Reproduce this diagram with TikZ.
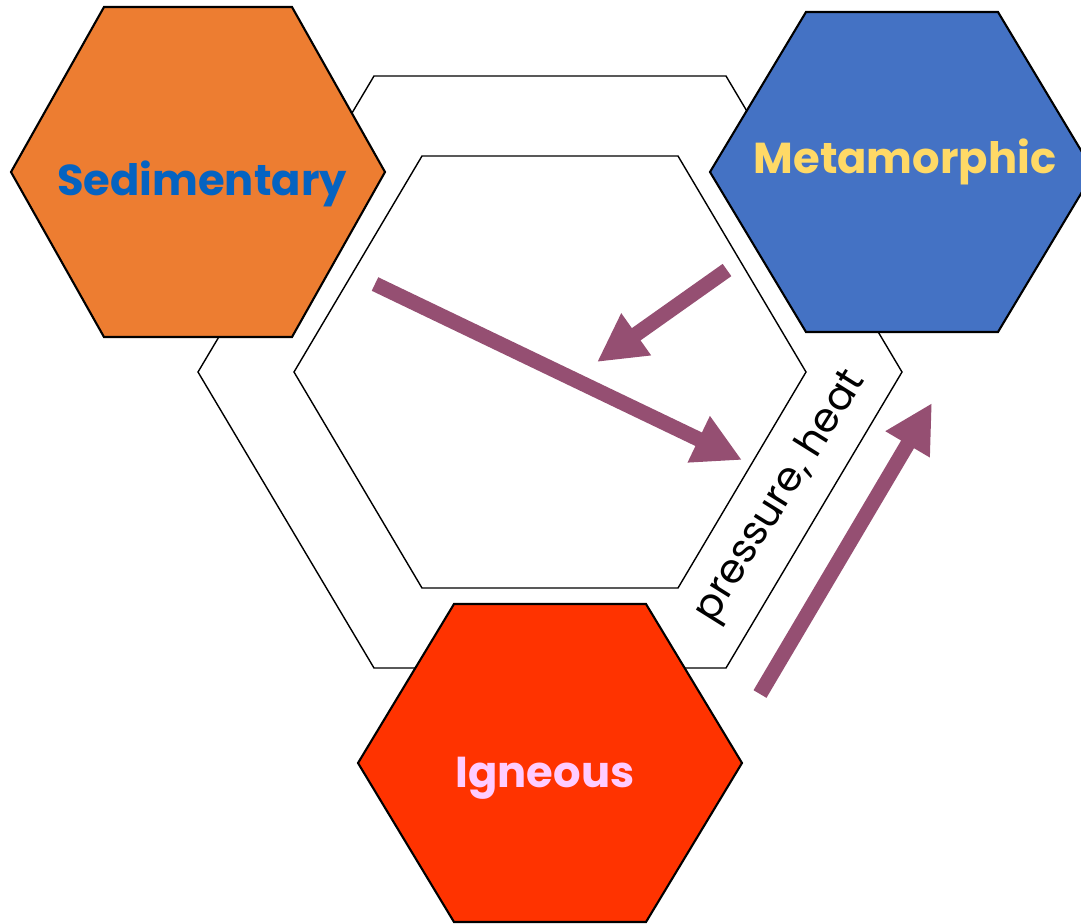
\documentclass[tikz,border=0pt]{standalone}
\usepackage{fontspec}
\setmainfont{Poppins}
\usepackage{tikz}
\usetikzlibrary{arrows.meta}

\definecolor{sedorange}{HTML}{ED7D31}
\definecolor{metablue}{HTML}{4472C4}
\definecolor{ignred}{HTML}{FF3300}
\definecolor{arrowpurple}{HTML}{954F72}
\definecolor{sedtext}{HTML}{0563C1}
\definecolor{metatext}{HTML}{FFD966}
\definecolor{igntext}{HTML}{FFCCFF}

% hexagon: style, centre x, centre y, half width, half top edge, half height
\newcommand{\hexagon}[6]{%
  \draw[#1] ({#2-#4},#3) -- ({#2-#5},{#3-#6}) -- ({#2+#5},{#3-#6})
    -- ({#2+#4},#3) -- ({#2+#5},{#3+#6}) -- ({#2-#5},{#3+#6}) -- cycle;}

\begin{document}
\begin{tikzpicture}[x=0.01cm, y=-0.01cm,
    frame/.style={draw=black, line width=0.4pt, fill=white},
    rock/.style={draw=black, line width=0.6pt},
    rocklabel/.style={font=\fontsize{12.3}{14}\selectfont\bfseries, anchor=base},
    fatarrow/.style={draw=arrowpurple, line width=0.15cm,
      -{Triangle[length=0.48cm, width=0.48cm]}}]
    \clip (0,0) rectangle (1081,923);
    % cycle frame
    \hexagon{frame}{550}{372}{352}{176}{296}
    \hexagon{frame}{550}{372}{256}{128}{216}
    % rock types
    \hexagon{rock, fill=sedorange}{198}{172}{187}{94}{165}
    \hexagon{rock, fill=metablue}{902}{172}{192}{96}{160}
    \hexagon{rock, fill=ignred}{550}{763}{192}{96}{159}
    \node[rocklabel, text=sedtext] (sed) at (202,195) {Sedimentary};
    \node[rocklabel, text=metatext] (meta) at (905,173) {Metamorphic};
    \node[rocklabel, text=igntext] (ign) at (545,787) {Igneous};
    % arrows
    \coordinate (a1s) at (375,284);
    \coordinate (a1e) at (742,460);
    \coordinate (a2s) at (727,270);
    \coordinate (a2e) at (597,362);
    \coordinate (a3s) at (760,694);
    \coordinate (a3e) at (932,403);
    \draw[fatarrow] (a1s) -- (a1e);
    \draw[fatarrow] (a2s) -- (a2e);
    \draw[fatarrow] (a3s) -- (a3e);
    \node[rotate=58, font=\fontsize{11.5}{14}\selectfont] (ph) at (781,497) {pressure, heat};
\end{tikzpicture}
\end{document}
